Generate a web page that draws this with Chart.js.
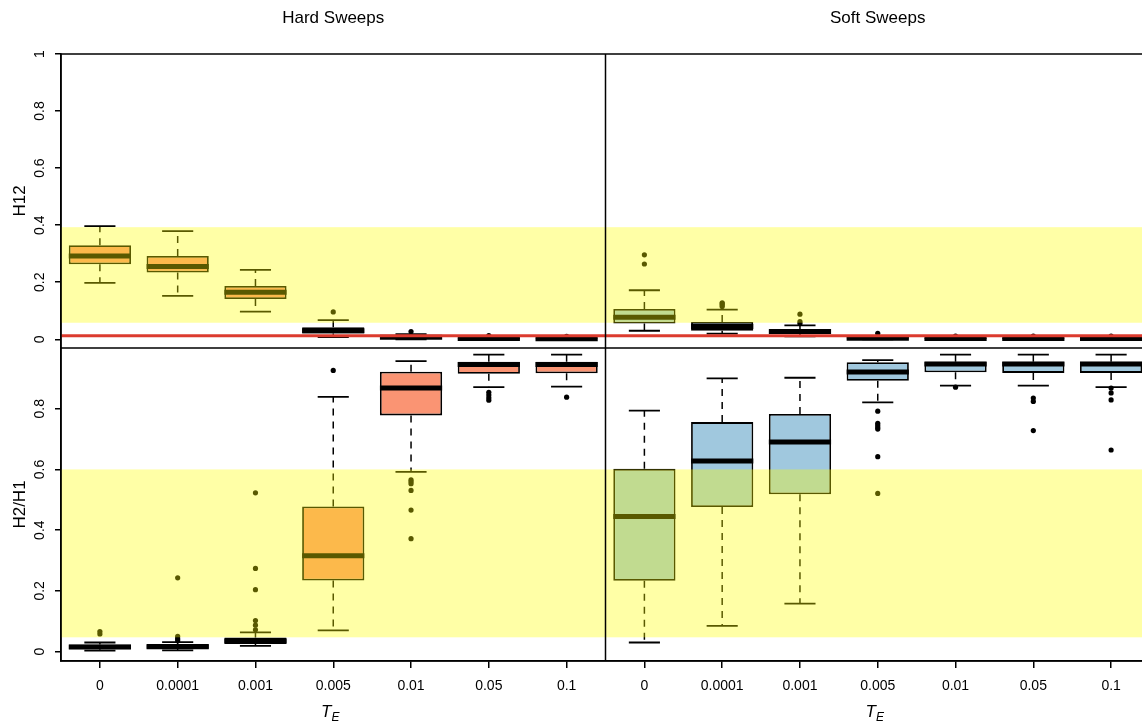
<!DOCTYPE html>
<html>
<head>
<meta charset="utf-8">
<script src="https://cdn.jsdelivr.net/npm/chart.js@4.4.0/dist/chart.umd.min.js"></script>
<style>
  html, body { margin: 0; padding: 0; overflow: hidden; background: #fff; }
  #wrap { width: 1170px; height: 725px; }
</style>
</head>
<body>
<div id="wrap"><canvas id="chart" width="1170" height="725"></canvas></div>
<script>
const TE_LABELS = ['0', '0.0001', '0.001', '0.005', '0.01', '0.05', '0.1'];
const PANEL_TITLES = ['Hard Sweeps', 'Soft Sweeps'];
const CATS = [...TE_LABELS.map(l => 'hard ' + l), ...TE_LABELS.map(l => 'soft ' + l)];

// each box: [lower whisker, q1, median, q3, upper whisker]
const H12_HARD = [
  [0.198, 0.263, 0.292, 0.330, 0.397],
  [0.152, 0.234, 0.255, 0.292, 0.379],
  [0.097, 0.141, 0.165, 0.187, 0.243],
  [0.008, 0.020, 0.030, 0.042, 0.067],
  [0.000, 0.003, 0.007, 0.012, 0.018],
  [0.000, 0.001, 0.003, 0.005, 0.009],
  [0.000, 0.001, 0.002, 0.004, 0.007]
];
const H12_SOFT = [
  [0.030, 0.055, 0.077, 0.106, 0.172],
  [0.020, 0.030, 0.045, 0.061, 0.104],
  [0.010, 0.019, 0.027, 0.034, 0.049],
  [0.000, 0.002, 0.004, 0.008, 0.012],
  [0.000, 0.001, 0.003, 0.005, 0.008],
  [0.000, 0.001, 0.003, 0.005, 0.008],
  [0.000, 0.001, 0.003, 0.005, 0.008]
];
const H12_HARD_OUT = [[], [], [], [0.096], [0.027], [0.013], [0.010]];
const H12_SOFT_OUT = [[0.264, 0.296], [0.115, 0.120, 0.125, 0.128], [0.055, 0.062, 0.088], [0.021], [0.011], [0.011], [0.011]];

const H21_HARD = [
  [0.003, 0.008, 0.015, 0.023, 0.030],
  [0.004, 0.009, 0.016, 0.025, 0.031],
  [0.019, 0.025, 0.035, 0.046, 0.063],
  [0.070, 0.234, 0.316, 0.478, 0.839],
  [0.592, 0.778, 0.868, 0.922, 0.957],
  [0.871, 0.915, 0.946, 0.955, 0.978],
  [0.873, 0.917, 0.946, 0.955, 0.978]
];
const H21_SOFT = [
  [0.030, 0.233, 0.445, 0.602, 0.794],
  [0.085, 0.476, 0.628, 0.756, 0.900],
  [0.158, 0.518, 0.690, 0.783, 0.902],
  [0.821, 0.892, 0.921, 0.953, 0.960],
  [0.876, 0.920, 0.947, 0.955, 0.978],
  [0.876, 0.918, 0.947, 0.955, 0.978],
  [0.871, 0.918, 0.947, 0.955, 0.978]
];
const H21_HARD_OUT = [[0.058, 0.066], [0.036, 0.042, 0.050, 0.243], [0.072, 0.087, 0.102, 0.204, 0.274, 0.523], [0.926],
  [0.566, 0.560, 0.553, 0.531, 0.466, 0.372], [0.854, 0.845, 0.836, 0.828], [0.838]];
const H21_SOFT_OUT = [[], [], [], [0.792, 0.752, 0.745, 0.738, 0.733, 0.642, 0.521], [0.871], [0.835, 0.824, 0.728], [0.868, 0.852, 0.829, 0.664]];

const H12_BAND = [0.058, 0.393];
const H21_BAND = [0.047, 0.600];
const H12_CUTOFF = 0.0126;
const H12_TICKS = [0, 0.2, 0.4, 0.6, 0.8, 1];
const H21_TICKS = [0, 0.2, 0.4, 0.6, 0.8];

const HARD_FILL = '#FA9473';
const SOFT_FILL = '#A0C8DE';
const BAND_COLOR = 'rgba(255,255,0,0.35)';
const FONT = '"Liberation Sans", Arial, Helvetica, sans-serif';

Chart.defaults.font.family = FONT;
Chart.defaults.color = '#000';

function boxBars(stats, axis) {
  return {
    type: 'bar',
    data: stats.map(s => [s[1], s[3]]),
    yAxisID: axis,
    grouped: false,
    backgroundColor: stats.map((s, i) => i < 7 ? HARD_FILL : SOFT_FILL),
    borderColor: '#000',
    borderWidth: 1.8,
    borderSkipped: false,
    barPercentage: 0.8,
    categoryPercentage: 1
  };
}

function outlierPoints(outs, axis) {
  return {
    type: 'line',
    showLine: false,
    yAxisID: axis,
    data: outs.flatMap((list, i) => list.map(v => ({ x: CATS[i], y: v }))),
    pointRadius: 2.6,
    pointBackgroundColor: '#000',
    pointBorderWidth: 0
  };
}

function yAxis(min, weight, tickList, title) {
  return {
    type: 'linear',
    position: 'left',
    stack: 'rows',
    stackWeight: weight,
    min: min,
    max: 1,
    afterBuildTicks: s => { s.ticks = tickList.map(v => ({ value: v })); },
    afterFit: s => { s.width = 61; },
    ticks: { display: false },
    grid: { drawOnChartArea: false, drawTicks: true, tickLength: 6, color: '#000', lineWidth: 1.5 },
    border: { display: true, color: '#000', width: 1.5 },
    title: { display: true, text: title, font: { size: 17 }, padding: { top: 10, bottom: 0 } }
  };
}

const boxPlugin = {
  id: 'boxes',
  afterDatasetsDraw(chart) {
    const ctx = chart.ctx, x = chart.scales.x, area = chart.chartArea;
    const step = x.getPixelForValue(1) - x.getPixelForValue(0);
    const rows = [
      { scale: chart.scales.yTop, stats: [...H12_HARD, ...H12_SOFT] },
      { scale: chart.scales.yBot, stats: [...H21_HARD, ...H21_SOFT] }
    ];
    ctx.save();
    ctx.strokeStyle = '#000';
    rows.forEach(row => {
      row.stats.forEach((s, i) => {
        const cx = x.getPixelForValue(i);
        const half = step * 0.4, cap = step * 0.2;
        const [lo, q1, med, q3, hi] = s.map(v => row.scale.getPixelForValue(v));
        ctx.lineWidth = 1.5;
        ctx.setLineDash([7, 6]);
        ctx.beginPath();
        ctx.moveTo(cx, q3); ctx.lineTo(cx, hi);
        ctx.moveTo(cx, q1); ctx.lineTo(cx, lo);
        ctx.stroke();
        ctx.setLineDash([]);
        ctx.lineWidth = 1.8;
        ctx.beginPath();
        ctx.moveTo(cx - cap, hi); ctx.lineTo(cx + cap, hi);
        ctx.moveTo(cx - cap, lo); ctx.lineTo(cx + cap, lo);
        ctx.stroke();
        ctx.lineWidth = 5;
        ctx.beginPath();
        ctx.moveTo(cx - half, med); ctx.lineTo(cx + half, med);
        ctx.stroke();
      });
    });

    // translucent threshold bands over everything
    [[chart.scales.yTop, H12_BAND], [chart.scales.yBot, H21_BAND]].forEach(([s, b]) => {
      const y0 = s.getPixelForValue(b[0]), y1 = s.getPixelForValue(b[1]);
      ctx.fillStyle = BAND_COLOR;
      ctx.fillRect(area.left, y1, area.right - area.left, y0 - y1);
    });

    // cutoff line
    const yc = chart.scales.yTop.getPixelForValue(H12_CUTOFF);
    ctx.strokeStyle = '#DC3B2E';
    ctx.lineWidth = 3;
    ctx.beginPath(); ctx.moveTo(area.left, yc); ctx.lineTo(area.right, yc); ctx.stroke();

    // panel frames
    const mid = (x.getPixelForValue(6) + x.getPixelForValue(7)) / 2;
    ctx.strokeStyle = '#000';
    ctx.lineWidth = 1.5;
    ctx.strokeRect(area.left, area.top, area.right - area.left, area.bottom - area.top);
    ctx.beginPath();
    ctx.moveTo(area.left, chart.scales.yTop.bottom); ctx.lineTo(area.right, chart.scales.yTop.bottom);
    ctx.moveTo(mid, area.top); ctx.lineTo(mid, area.bottom);
    ctx.stroke();
    ctx.restore();
  },
  afterDraw(chart) {
    const ctx = chart.ctx, x = chart.scales.x;
    const centers = [
      (x.getPixelForValue(0) + x.getPixelForValue(6)) / 2,
      (x.getPixelForValue(7) + x.getPixelForValue(13)) / 2
    ];
    ctx.save();
    ctx.fillStyle = '#000';
    // panel titles
    ctx.font = '17px ' + FONT;
    ctx.textAlign = 'center';
    ctx.textBaseline = 'middle';
    centers.forEach((c, i) => ctx.fillText(PANEL_TITLES[i], c, 18));

    // rotated y tick labels
    ctx.font = '14px ' + FONT;
    [[chart.scales.yTop, H12_TICKS], [chart.scales.yBot, H21_TICKS]].forEach(([s, list]) => {
      list.forEach(v => {
        ctx.save();
        ctx.translate(40, s.getPixelForValue(v));
        ctx.rotate(-Math.PI / 2);
        ctx.fillText(String(v), 0, 0);
        ctx.restore();
      });
    });

    // x axis titles T_E
    ctx.textAlign = 'left';
    ctx.textBaseline = 'alphabetic';
    centers.forEach(c => {
      ctx.font = 'italic 17px ' + FONT;
      const tW = ctx.measureText('T').width;
      ctx.font = 'italic 12px ' + FONT;
      const eW = ctx.measureText('E').width;
      const start = c - (tW + eW) / 2 - 3;
      ctx.font = 'italic 17px ' + FONT;
      ctx.fillText('T', start, 717);
      ctx.font = 'italic 12px ' + FONT;
      ctx.fillText('E', start + tW, 721);
    });
    ctx.restore();
  }
};

new Chart(document.getElementById('chart'), {
  type: 'bar',
  data: {
    labels: CATS,
    datasets: [
      boxBars([...H12_HARD, ...H12_SOFT], 'yTop'),
      boxBars([...H21_HARD, ...H21_SOFT], 'yBot'),
      outlierPoints([...H12_HARD_OUT, ...H12_SOFT_OUT], 'yTop'),
      outlierPoints([...H21_HARD_OUT, ...H21_SOFT_OUT], 'yBot')
    ]
  },
  options: {
    responsive: false,
    animation: false,
    events: [],
    layout: { padding: { top: 54, right: 20, left: 0, bottom: 0 } },
    plugins: { legend: { display: false }, tooltip: { enabled: false } },
    scales: {
      x: {
        type: 'category',
        offset: true,
        afterFit: s => { s.height = 64; },
        grid: { drawOnChartArea: false, drawTicks: true, tickLength: 7, offset: false, color: '#000', lineWidth: 1.5 },
        border: { display: true, color: '#000', width: 1.5 },
        ticks: {
          autoSkip: false, maxRotation: 0, minRotation: 0, font: { size: 14 }, padding: 10,
          callback: (v, i) => TE_LABELS[i % TE_LABELS.length]
        }
      },
      // stacked axes are laid out bottom-up, so the lower panel comes first
      yBot: yAxis(-0.031, 313, H21_TICKS, 'H2/H1'),
      yTop: yAxis(-0.0305, 294, H12_TICKS, 'H12')
    }
  },
  plugins: [boxPlugin]
});
</script>
</body>
</html>
